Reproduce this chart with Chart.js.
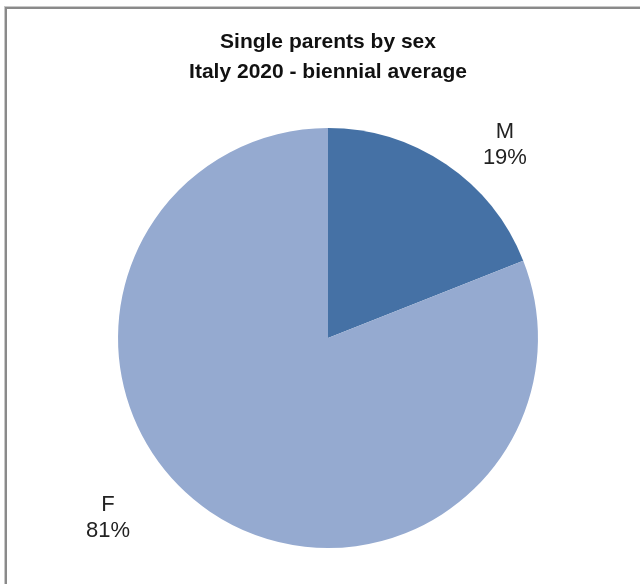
<!DOCTYPE html>
<html>
<head>
<meta charset="utf-8">
<script src="https://cdn.jsdelivr.net/npm/chart.js@4/dist/chart.umd.min.js"></script>
<style>
    html, body { margin: 0; padding: 0; background: #fff; }
    #wrap { position: relative; width: 640px; height: 584px; overflow: hidden; }
    #frame {
        position: absolute; left: 5px; top: 7px; width: 700px; height: 700px;
        border-left: 2px solid #8a8a8a; border-top: 2px solid #8a8a8a;
        box-shadow: -1px -1px 0 #c8c8c8;
    }
    canvas { position: absolute; left: 0; top: 0; }
</style>
</head>
<body>
<div id="wrap">
    <div id="frame"></div>
    <canvas id="pie-chart" width="640" height="584"></canvas>
</div>
<script>
// Data
const categories = ['M', 'F'];
const shares = [19, 81];
const sliceColors = ['#4571A5', '#95AAD0'];

// Label placement around the pie (angle from top, clockwise; distance as radius factor)
const labelSpots = [
    { angle: 42.5, dist: 1.247 },
    { angle: 230.7, dist: 1.354 }
];

const pieLabels = {
    id: 'pieLabels',
    afterDatasetsDraw(chart) {
        const ctx = chart.ctx;
        const meta = chart.getDatasetMeta(0);
        ctx.save();
        ctx.font = '22px "Liberation Sans", Arial, sans-serif';
        ctx.fillStyle = '#222';
        ctx.textAlign = 'center';
        ctx.textBaseline = 'middle';
        meta.data.forEach((arc, i) => {
            const spot = labelSpots[i];
            const a = spot.angle * Math.PI / 180;
            const r = arc.outerRadius * spot.dist;
            const x = arc.x + Math.sin(a) * r;
            const y = arc.y - Math.cos(a) * r;
            ctx.fillText(chart.data.labels[i], x, y - 13);
            ctx.fillText(shares[i] + '%', x, y + 13);
        });
        ctx.restore();
    }
};

new Chart(document.getElementById('pie-chart'), {
    type: 'pie',
    data: {
        labels: categories,
        datasets: [{
            data: shares,
            backgroundColor: sliceColors,
            borderWidth: 0
        }]
    },
    options: {
        responsive: false,
        animation: false,
        layout: {
            padding: { left: 118, right: 102, top: 0, bottom: 36 }
        },
        plugins: {
            legend: { display: false },
            tooltip: { enabled: false },
            title: {
                display: true,
                text: ['Single parents by sex', 'Italy 2020 - biennial average'],
                color: '#111',
                font: { family: '"Liberation Sans", Arial, sans-serif', size: 21, weight: 'bold', lineHeight: 1.43 },
                padding: { top: 27, bottom: 41 }
            }
        }
    },
    plugins: [pieLabels]
});
</script>
</body>
</html>
